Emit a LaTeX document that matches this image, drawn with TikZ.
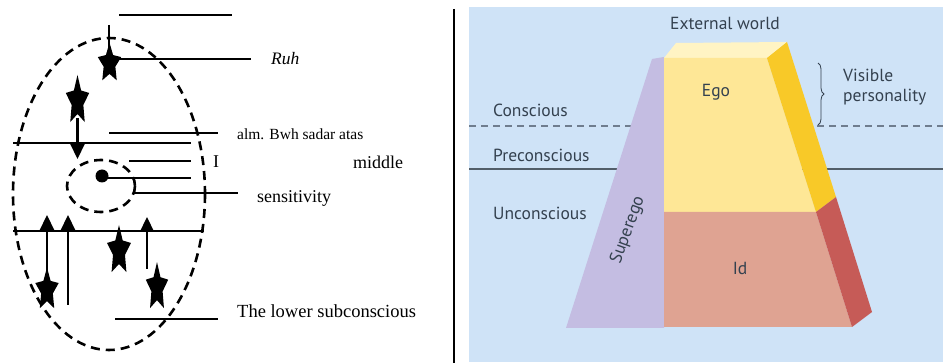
\documentclass[tikz,border=0pt]{standalone}
\usepackage{fontspec}
\setmainfont{Liberation Serif}
\newfontfamily\ptsans{PT Sans}
\usetikzlibrary{arrows.meta,decorations.pathreplacing}
\definecolor{bgblue}{HTML}{CFE3F7}
\definecolor{superc}{HTML}{C4BDE2}
\definecolor{egoc}{HTML}{FEE796}
\definecolor{egotop}{HTML}{FFF4C4}
\definecolor{goldc}{HTML}{F8C928}
\definecolor{idc}{HTML}{DFA392}
\definecolor{redc}{HTML}{C65B57}
\definecolor{slate}{HTML}{34414F}
\definecolor{dashc}{HTML}{6F7D8E}
\newcommand\bstar[5]{%
  \fill[shift={(#1,#2)},xscale=#3,yscale=#4] (270:1)
    \foreach \k in {0,...,4}{ -- ({306+72*\k}:0.5) -- ({342+72*\k}:1) } -- cycle;
  \coordinate (#5) at (#1,#2);}
\begin{document}
\begin{tikzpicture}[x=1pt,y=-1pt,
  ln/.style={line width=2.2pt},
  thinln/.style={line width=1.5pt},
  dash1/.style={line width=2.6pt,dash pattern=on 9pt off 6pt},
  upar/.style={line width=2.2pt,-{Triangle[width=14pt,length=15pt]}},
  lt/.style={inner sep=0pt,anchor=west,font=\fontsize{18}{20}\selectfont},
  rt/.style={inner sep=0pt,text=slate,font=\ptsans\fontsize{17.5}{20}\selectfont}]
\useasboundingbox[fill=white] (0,0) rectangle (943,363);

% ---------------- left panel ----------------
\draw[dash1] (109,194) ellipse [x radius=96, y radius=156];
\draw[dash1] (101,186) ellipse [x radius=34, y radius=26];

\coordinate (t1) at (119,15); \coordinate (t2) at (232,15);
\draw[ln] (t1) -- (t2);

\coordinate (vtop) at (109,25); \coordinate (vbot) at (109,60);
\draw[ln] (vtop) -- (vbot);
\bstar{109.5}{63.5}{12.3}{20.8}{sruh}
\node[lt,font=\itshape\fontsize{17.5}{20}\selectfont] (ruh) at (271,59) {Ruh};
\coordinate (ruhL) at (119,59); \coordinate (ruhR) at (251,59);
\draw[ln] (ruhL) -- (ruhR);

\bstar{77.5}{101}{12.3}{26}{s2}
\coordinate (s2b) at (77.5,118);
\coordinate (s2tip) at (77.5,159);
\draw[upar] (s2b) -- (s2tip);

\node[lt,font=\fontsize{15.5}{18}\selectfont] (alm) at (237,134) {alm. Bwh sadar atas};
\coordinate (almL) at (109,133); \coordinate (almR) at (218,133);
\draw[thinln] (almL) -- (almR);

\coordinate (h1a) at (13,143); \coordinate (h1b) at (191,143);
\draw[ln] (h1a) -- (h1b);

\node[lt] (I) at (213,162) {I};
\node[lt] (middle) at (353,162) {middle};
\coordinate (iL) at (129,161); \coordinate (iR) at (191,161);
\draw[ln] (iL) -- (iR);

\fill (102,176) circle [radius=6.5];
\coordinate (dot) at (102,178);
\coordinate (dotR) at (191,178);
\draw[ln] (dot) -- (dotR);

\node[lt] (sens) at (257,198) {sensitivity};
\coordinate (sL) at (133,193); \coordinate (sR) at (238,193);
\draw[ln] (sL) -- (sR);

\coordinate (h2a) at (13,231); \coordinate (h2b) at (204,231);
\draw[ln] (h2a) -- (h2b);

\bstar{47}{290}{12.3}{22.5}{s1}
\coordinate (a1tip) at (47,215);
\draw[upar] (s1) -- (a1tip);
\coordinate (a2b) at (68,305); \coordinate (a2tip) at (68,215);
\draw[upar] (a2b) -- (a2tip);
\bstar{119}{251}{12.6}{26}{s3}
\coordinate (a3b) at (147,269); \coordinate (a3tip) at (147,217);
\draw[upar] (a3b) -- (a3tip);
\bstar{157}{287.5}{11.8}{25.4}{s4}

\node[lt,font=\fontsize{18.5}{21}\selectfont] (lower) at (237,311) {The lower subconscious};
\coordinate (lwL) at (115,319); \coordinate (lwR) at (218,319);
\draw[ln] (lwL) -- (lwR);

% divider
\coordinate (d1) at (454,9); \coordinate (d2) at (454,363);
\draw[line width=2pt] (d1) -- (d2);

% ---------------- right panel ----------------
\fill[bgblue] (469,7) rectangle (943,362);
\coordinate (dl1) at (469,126); \coordinate (dl2) at (943,126);
\draw[dashc,line width=1.2pt,dash pattern=on 7pt off 5pt] (dl1) -- (dl2);
\coordinate (sl1) at (469,169); \coordinate (sl2) at (943,169);
\draw[slate!85,line width=1.2pt] (sl1) -- (sl2);

\fill[superc] (652,59) -- (664,57) -- (664,328) -- (566,328) -- cycle;
\fill[egotop] (664,58) -- (676,43) -- (787,42) -- (767,58) -- cycle;
\fill[egoc] (664,58) -- (767,58) -- (816,212) -- (664,212) -- cycle;
\fill[goldc] (767,58) -- (787,42) -- (836,197) -- (816,212) -- cycle;
\fill[idc] (664,212) -- (816,212) -- (852,327) -- (664,327) -- cycle;
\fill[redc] (816,212) -- (836,197) -- (872,312) -- (852,327) -- cycle;

\node[rt,anchor=west] (cons) at (493,110) {Conscious};
\node[rt,anchor=west] (pre) at (493,155) {Preconscious};
\node[rt,anchor=west] (uncons) at (493,213) {Unconscious};
\node[rt] (ext) at (725,23) {External world};
\node[rt] (ego) at (716,92) {Ego};
\node[rt] (id) at (740,268) {Id};
\node[rt,rotate=70] (super) at (628,230) {Superego};
\node[rt,anchor=west,align=left] (vis) at (843,87) {Visible\\personality};
\coordinate (br1) at (818,63); \coordinate (br2) at (818,125);
\draw[slate,line width=0.8pt,decorate,decoration={brace,amplitude=6pt}] (br1) -- (br2);
\end{tikzpicture}
\end{document}
